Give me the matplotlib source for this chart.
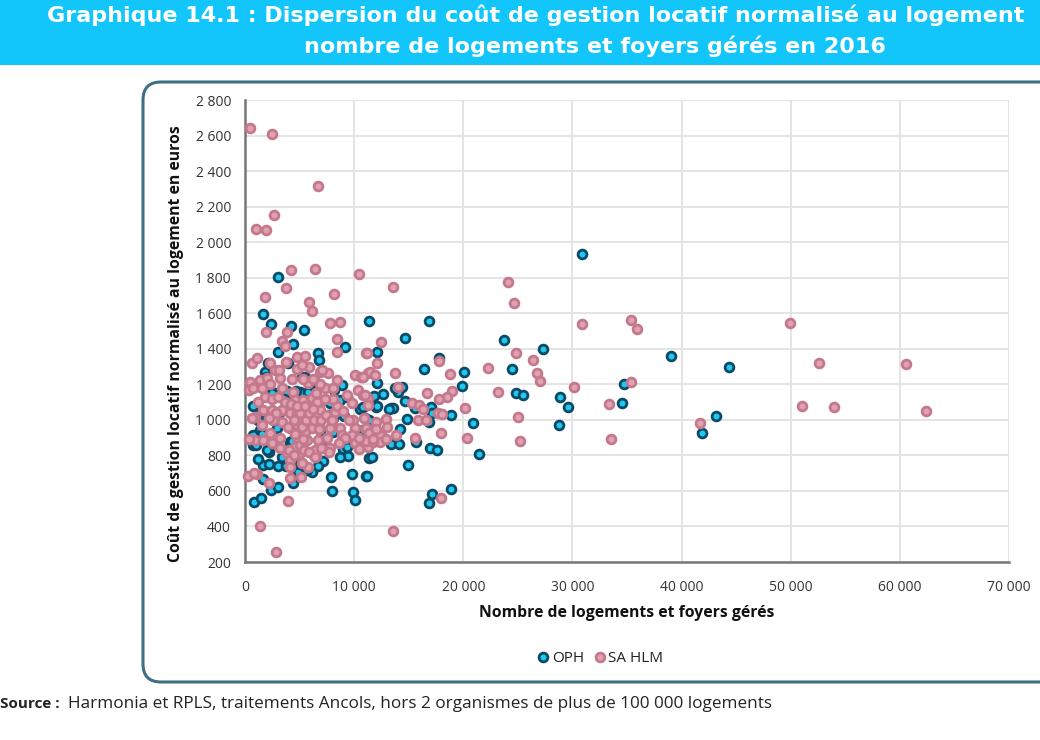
# Dispersion du cout de gestion locatif - nuage de points OPH / SA HLM

import matplotlib
matplotlib.use('Agg')
import matplotlib.pyplot as plt
from matplotlib.patches import FancyBboxPatch, Rectangle

# OPH : logements geres, cout au logement
oph_x = [30900, 3030, 1620, 11360, 16850, 2350, 4210, 5400, 4420, 9180, 3050, 6650, 6770, 1830, 5490, 6400,
         8850, 2740, 3810, 3810, 8690, 9360, 7780, 915, 1525, 2900, 6860, 6800, 7930, 9060, 10580, 4120, 8990,
         6860, 1370, 760, 10980, 10830, 8080, 5030, 5800, 3960, 2130,
         760, 2230, 4120, 8990, 9460, 11380, 1620, 2230, 3050, 7110, 6100, 4880, 7840, 9760, 11070, 1680, 2350,
         3050, 4420, 7930, 9850, 10070, 850, 1430,
         14650, 12120, 17800, 16420, 20050, 19840, 12060, 14350, 11820, 12670, 13980, 14650, 11970, 13340, 13590,
         14810, 17000, 17090, 15570, 16880, 18920, 20850, 14200, 13340, 14100, 15660, 16940, 17610, 21460, 11600,
         14900, 11150, 18890, 17100, 16850,
         39030, 44350, 41870, 43160, 34540, 34730, 27300, 23730, 24460, 24830, 25470, 28860, 29590, 28770,
         1200, 1000, 700, 1600, 2000, 2500, 2900, 3400, 3800, 4300, 5000, 5700, 6300, 6700, 7200, 7600, 8200,
         8700, 9300, 10000, 10800, 11400, 12100, 12600, 13200, 13700, 1900, 2500, 3300, 4700, 5200, 6000, 8100,
         1200]
oph_y = [1935, 1805, 1597, 1556, 1556, 1540, 1530, 1506, 1427, 1408, 1380, 1374, 1337, 1271, 1243, 1215,
         1196, 1153, 1164, 1102, 1112, 1130, 1097, 1078, 999, 952, 943, 990, 999, 1022, 1059, 877, 840,
         868, 943, 915, 1009, 943, 934, 1159, 1159, 1318, 1318,
         858, 821, 877, 834, 796, 783, 746, 751, 742, 770, 708, 708, 680, 695, 686, 665, 605,
         620, 643, 601, 596, 549, 536, 558,
         1459, 1380, 1346, 1286, 1267, 1192, 1209, 1187, 1134, 1146, 1159, 1108, 1074, 1069, 1069,
         1005, 1074, 1040, 1065, 990, 1027, 984, 949, 864, 864, 877, 840, 830, 808, 789,
         746, 686, 609, 581, 534,
         1359, 1297, 926, 1022, 1095, 1201, 1399, 1449, 1286, 1151, 1140, 1129, 1072, 971,
         1000, 860, 1080, 920, 830, 870, 1010, 790, 740, 880, 750, 720, 800, 740, 850, 1030, 1170,
         790, 850, 890, 1070, 1000, 1080, 900, 1060, 1180, 1240, 1150, 1050, 1160, 1240, 1200, 1010,
         780]

# SA HLM : logements geres, cout au logement
sa_x = [460, 2445, 6650, 2680, 1000, 1900, 4180, 6430, 10400, 13560, 3760, 8200, 1850, 5870, 6100,
        7780, 8700, 1920, 3810, 3350, 3660, 8450, 8450, 11070, 4730, 5490, 610, 1070, 2290, 2740, 3750, 4790,
        5860, 6860, 7620, 8390, 10060, 10670, 11280, 460, 400, 760, 1370, 1980, 1525, 3200, 5800, 7320, 8080,
        10370, 10830, 11280, 4420, 1830, 2440, 9760, 4570, 5340, 6100, 6860, 5030, 5950, 6860, 8230, 1680,
        2440, 3350, 4120, 915, 2590, 3350, 4730, 5340, 5030, 4120, 4730, 6100, 5490, 7780, 8690, 9910, 10060,
        11130, 8850, 9760, 915, 1680, 2290, 3200, 4880, 5640, 6710, 7780, 11280,
        7720, 10070, 10460, 305, 1070, 2230, 4120, 5120, 5790, 6500, 5030, 3810, 4120, 4120, 5180, 3200, 2440,
        4570, 6400, 3960, 1370, 2800,
        12430, 11150, 12060, 13740, 17800, 18770, 22280, 23200, 11450, 11910, 10840, 14040, 16700, 19010, 18530,
        17770, 15260, 15970, 16330, 17700, 18010, 20170, 15870, 16580, 17920, 20300, 15570, 13800, 12920, 13040,
        11970, 11390, 12370, 12370, 11090, 11760, 10900, 11000, 11300, 17950, 13590,
        30880, 35370, 35920, 49930, 52590, 60560, 62400, 51030, 53970, 24100, 24650, 24830, 26390, 26750, 27030,
        30140, 35370, 33350, 33530, 41690, 25010, 25200,
        4500, 5000, 5200, 5600, 5900, 6300, 6600, 3700, 4200, 4800, 5500, 6200, 7000, 7400, 3000, 2800, 2200,
        1600, 4000, 4500, 5000, 5400, 5900, 6400, 7000, 7500, 8000, 8400, 9000, 9500,
        9200, 8600, 10400, 11700, 12000, 12900, 9300, 8100, 7300, 6900, 6200, 5300, 4300, 3400, 2300, 1200,
        600, 400, 800, 5200, 3100, 6500, 7100, 3900, 4600, 5300, 6800]
sa_y = [2644, 2608, 2317, 2152, 2074, 2068, 1843, 1848, 1823, 1747, 1743, 1708, 1690, 1663, 1612,
        1543, 1553, 1496, 1496, 1446, 1416, 1453, 1380, 1374, 1356, 1359, 1318, 1346, 1318, 1281, 1327, 1284,
        1299, 1271, 1266, 1224, 1252, 1243, 1262, 1215, 1168, 1177, 1224, 1234, 1177, 1234, 1206, 1177, 1177,
        1168, 1140, 1121, 1159, 1130, 1115, 1093, 1112, 1112, 1121, 1102, 1065, 1065, 1055, 1046, 1055,
        1055, 1055, 1037, 1018, 999, 990, 1037, 1018, 990, 952, 971, 952, 934, 952, 952, 999, 952,
        952, 915, 915, 887, 887, 924, 896, 896, 887, 887, 840, 849,
        817, 868, 834, 684, 693, 643, 671, 680, 736, 796, 815, 815, 774, 733, 759, 840, 868,
        849, 830, 543, 404, 258,
        1438, 1374, 1322, 1266, 1333, 1258, 1294, 1159, 1271, 1252, 1243, 1187, 1149, 1164, 1127,
        1115, 1093, 1084, 1059, 1040, 1031, 1069, 999, 999, 924, 896, 896, 915, 1005, 962,
        986, 928, 915, 877, 883, 877, 1012, 1140, 1084, 562, 376,
        1538, 1562, 1511, 1545, 1320, 1314, 1050, 1078, 1072, 1776, 1657, 1376, 1337, 1264, 1219,
        1185, 1213, 1089, 892, 982, 1016, 881,
        1000, 1040, 960, 1000, 1040, 1000, 1100, 1100, 1090, 1080, 1080, 1060, 1000, 1030, 1130, 1040, 1010,
        970, 830, 800, 860, 830, 820, 790, 840, 900, 1000, 1080, 1050, 1000,
        900, 870, 900, 890, 950, 890, 1140, 1120, 1120, 1200, 1230, 1230, 1230, 1180, 1200, 1100,
        1010, 890, 700, 1310, 1280, 1150, 1280, 960, 920, 890, 950]

x_ticks = [0, 10000, 20000, 30000, 40000, 50000, 60000, 70000]
x_labels = ['0', '10 000', '20 000', '30 000', '40 000', '50 000', '60 000', '70 000']
y_ticks = list(range(200, 3000, 200))
y_labels = ['200', '400', '600', '800', '1 000', '1 200', '1 400', '1 600', '1 800', '2 000', '2 200', '2 400',
            '2 600', '2 800']

plt.rcParams['font.family'] = ['Open Sans', 'DejaVu Sans']

W, H = 1040, 740
fig = plt.figure(figsize=(W / 100, H / 100), dpi=100, facecolor='white')

# fond en pixels : bandeau, cadre arrondi, textes hors graphique
bg = fig.add_axes([0, 0, 1, 1], zorder=0)
bg.set_xlim(0, W)
bg.set_ylim(H, 0)
bg.axis('off')
bg.add_patch(Rectangle((0, 0), W, 65, facecolor='#12c6fb', edgecolor='none'))
bg.add_patch(FancyBboxPatch((143, 82), 960, 600, boxstyle='round,pad=0,rounding_size=18',
                            facecolor='white', edgecolor='#3f6f82', linewidth=2.2))
bg.text(47, 15, 'Graphique 14.1 : Dispersion du coût de gestion locatif normalisé au logement',
        color='white', fontsize=16, fontweight='bold', family='DejaVu Sans', va='center', ha='left')
bg.text(595, 46, 'nombre de logements et foyers gérés en 2016',
        color='white', fontsize=16, fontweight='bold', family='DejaVu Sans', va='center', ha='center')
bg.text(0, 704, 'Source :', color='#222222', fontsize=11, fontweight='bold', va='center', ha='left')
bg.text(68, 704, 'Harmonia et RPLS, traitements Ancols, hors 2 organismes de plus de 100 000 logements',
        color='#222222', fontsize=12.3, va='center', ha='left')

ax = fig.add_axes([245 / W, 1 - 562 / H, (1009 - 245) / W, (562 - 100) / H], zorder=1)
ax.patch.set_alpha(0)
ax.scatter(oph_x, oph_y, s=40, facecolor='#1fc8ef', edgecolor='#0b4a66', linewidth=2.0, zorder=3, label='OPH',
           clip_on=False)
ax.scatter(sa_x, sa_y, s=40, facecolor='#e0a2b0', edgecolor='#c4788c', linewidth=2.0, zorder=4, label='SA HLM',
           clip_on=False)

ax.set_xlim(0, 70000)
ax.set_ylim(200, 2800)
ax.set_xticks(x_ticks)
ax.set_xticklabels(x_labels, fontsize=10, color='#333333')
ax.set_yticks(y_ticks)
ax.set_yticklabels(y_labels, fontsize=10, color='#333333')
ax.tick_params(axis='y', length=0, pad=10)
ax.tick_params(axis='x', length=0, pad=13)
ax.grid(True, color='#e4e4e4', linewidth=1.4, zorder=0)
ax.set_axisbelow(True)
ax.spines['top'].set_visible(False)
ax.spines['right'].set_visible(False)
ax.spines['left'].set_color('#777777')
ax.spines['bottom'].set_color('#777777')
ax.spines['left'].set_linewidth(1.8)
ax.spines['bottom'].set_linewidth(1.8)

ax.set_xlabel('Nombre de logements et foyers gérés', fontsize=11.3, fontweight='bold', color='#111111', labelpad=7)
ax.set_ylabel('Coût de gestion locatif normalisé au logement en euros', fontsize=11.3, fontweight='bold',
              color='#111111')
ax.yaxis.set_label_coords(-0.08, 0.473)

fig.legend(loc='center', bbox_to_anchor=(600 / W, 1 - 658 / H), ncol=2, frameon=False, fontsize=11,
           handlelength=0.9, handletextpad=0.1, columnspacing=0.6, labelcolor='#222222', scatterpoints=1)

fig.savefig('out.png', dpi=100)
